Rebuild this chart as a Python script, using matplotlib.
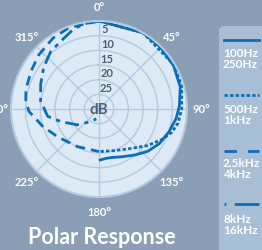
import numpy as np
import matplotlib
matplotlib.use('Agg')
import matplotlib.pyplot as plt
from matplotlib.patches import FancyBboxPatch

plt.rcParams['font.family'] = ['Lato', 'DejaVu Sans']

# polar response, attenuation in dB per angle (deg, clockwise from front)
lowAng = [0, 30, 45, 60, 75, 88, 97, 108, 120, 131, 142, 155, 165, 172, 180]
lowDb = [0, 0, 0.3, 0.6, 1.3, 2.6, 3.5, 4.9, 6.3, 8.0, 10.1, 12.0, 12.9, 13.0, 12.5]

midAng = [0, 30, 60, 75, 90, 100, 108, 116, 127, 140, 159, 180]
midDb = [0, 0, 0.3, 0.8, 1.8, 2.6, 4.0, 6.2, 9.3, 12.5, 14.8, 15.5]

highAng = [0, -20, -33, -48, -61, -75, -84, -92, -107, -124, -150, -180]
highDb = [0, 0.4, 1.2, 2.4, 3.5, 4.2, 4.9, 6.1, 9.9, 13.0, 15.2, 15.5]

topAng = [0, -10, -18, -28, -40, -53, -67, -82, -98, -108, -126, -145, -165]
topDb = [0, 0.5, 1.5, 3.3, 4.4, 6.4, 8.4, 9.9, 12.3, 16.2, 20.8, 24.7, 26.5]

ringDb = [5, 10, 15, 20, 25]
angleTicks = [0, 45, 90, 135, 180, 225, 270, 315]
legendText = ['100Hz\n250Hz', '500Hz\n1kHz', '2.5kHz\n4kHz', '8kHz\n16kHz']

bgColor = '#8a9eb5'
boxColor = '#a8bed5'
diskColor = '#dde9f5'
gridColor = '#b3cae2'
lineColor = '#0b6cb7'
darkText = '#4a6077'

dotted = (0, (1.2, 0.8))
dashed = (0, (3.5, 2.2))
dashDot = (0, (5, 2, 1.5, 2))

fig = plt.figure(figsize=(2.62, 2.51), dpi=100)
fig.patch.set_facecolor(bgColor)

# legend box on the right
box = FancyBboxPatch((219 / 262, -0.05), 0.2, (251 - 27) / 251 + 0.05,
                     boxstyle='round,pad=0,rounding_size=0.02',
                     transform=fig.transFigure, facecolor=boxColor,
                     edgecolor='none')
fig.patches.append(box)

ax = fig.add_axes([11 / 262, 53 / 251, 176 / 262, 176 / 251], projection='polar')
ax.set_facecolor(diskColor)
ax.set_theta_zero_location('N')
ax.set_theta_direction(-1)
ax.set_ylim(0, 30)
ax.set_yticks([30 - d for d in ringDb])
ax.set_yticklabels([])
ax.set_xticks(np.radians(angleTicks))
ax.set_xticklabels([])
ax.grid(True, color=gridColor, lw=1)
ax.spines['polar'].set_color(gridColor)
ax.spines['polar'].set_linewidth(1.5)

for d in ringDb:
    ax.text(0.035, 30 - d + 2.3, str(d), color=darkText, fontsize=8,
            fontweight='bold', ha='left', va='center')
ax.text(0, 0, 'dB', color=darkText, fontsize=11, fontweight='bold',
        ha='center', va='center')

for a in angleTicks:
    ax.text(np.radians(a), 35, str(a) + '°', color='white', fontsize=8,
            fontweight='bold', ha='center', va='center', clip_on=False)


def toR(db):
    return [30 - v for v in db]


ax.plot(np.radians(lowAng), toR(lowDb), color=lineColor, lw=2,
        solid_capstyle='butt')
ax.plot(np.radians(midAng), toR(midDb), color=lineColor, lw=2,
        linestyle=dotted)
ax.plot(np.radians(highAng), toR(highDb), color=lineColor, lw=2,
        linestyle=dashed)
ax.plot(np.radians(topAng), toR(topDb), color=lineColor, lw=2,
        linestyle=dashDot)

# legend entries
styles = ['-', dotted, (0, (4.5, 4)), (1.8, (2.5, 3, 10, 0))]
lineY = [41, 96, 152, 205]
textY = [59, 115, 169, 225]
for s, ly, ty, txt in zip(styles, lineY, textY, legendText):
    fig.add_artist(plt.Line2D([224 / 262, 259 / 262], [1 - ly / 251, 1 - ly / 251],
                              color=lineColor, lw=2, linestyle=s,
                              transform=fig.transFigure))
    fig.text(223 / 262, 1 - ty / 251, txt, color='white', fontsize=8.5,
             fontweight='bold', ha='left', va='center', linespacing=1.0)

fig.text(102 / 262, 1 - 237 / 251, 'Polar Response', color='white',
         fontsize=15.5, fontweight='bold', ha='center', va='center')

fig.savefig('out.png', dpi=100, facecolor=bgColor)
